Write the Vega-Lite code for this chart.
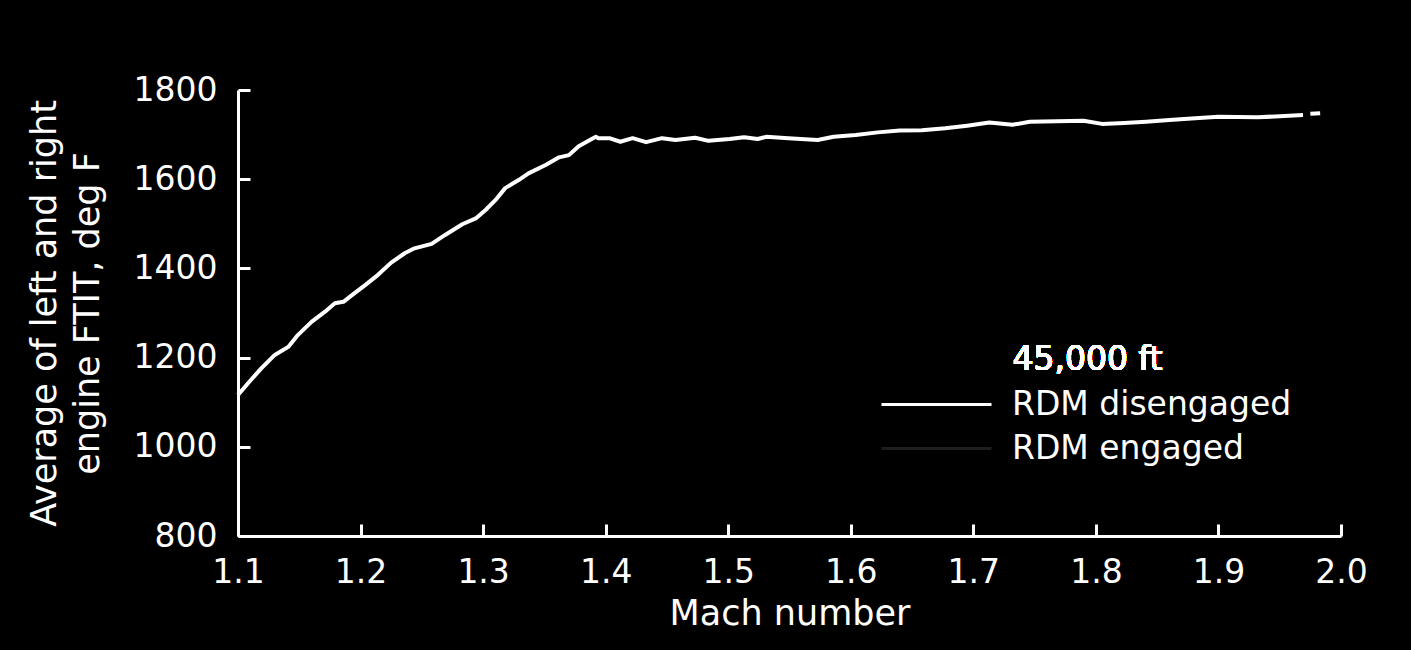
{
  "$schema": "https://vega.github.io/schema/vega-lite/v6.json",
  "autosize": "none",
  "width": 1103,
  "height": 446,
  "padding": {"left": 238, "top": 90, "right": 70, "bottom": 114},
  "background": "#000000",
  "config": {
    "view": {"stroke": null},
    "font": "DejaVu Sans",
    "axis": {
      "domainColor": "#ffffff",
      "domainWidth": 3,
      "tickColor": "#ffffff",
      "tickWidth": 3,
      "tickSize": -12,
      "labelColor": "#ffffff",
      "labelFont": "DejaVu Sans",
      "labelFontSize": 33,
      "labelFlush": false,
      "labelOverlap": false,
      "titleColor": "#ffffff",
      "titleFont": "DejaVu Sans",
      "titleFontSize": 35,
      "titleFontWeight": "normal",
      "grid": false
    },
    "legend": {
      "labelColor": "#ffffff",
      "labelFont": "DejaVu Sans",
      "labelFontSize": 33,
      "labelLimit": 0
    }
  },
  "data": {
    "values": [
      {"mach": 1.100, "ftit": 1116, "series": "RDM disengaged", "seg": 1},
      {"mach": 1.108, "ftit": 1142, "series": "RDM disengaged", "seg": 1},
      {"mach": 1.119, "ftit": 1176, "series": "RDM disengaged", "seg": 1},
      {"mach": 1.130, "ftit": 1206, "series": "RDM disengaged", "seg": 1},
      {"mach": 1.141, "ftit": 1224, "series": "RDM disengaged", "seg": 1},
      {"mach": 1.149, "ftit": 1251, "series": "RDM disengaged", "seg": 1},
      {"mach": 1.160, "ftit": 1280, "series": "RDM disengaged", "seg": 1},
      {"mach": 1.171, "ftit": 1303, "series": "RDM disengaged", "seg": 1},
      {"mach": 1.179, "ftit": 1322, "series": "RDM disengaged", "seg": 1},
      {"mach": 1.186, "ftit": 1325, "series": "RDM disengaged", "seg": 1},
      {"mach": 1.193, "ftit": 1340, "series": "RDM disengaged", "seg": 1},
      {"mach": 1.204, "ftit": 1363, "series": "RDM disengaged", "seg": 1},
      {"mach": 1.214, "ftit": 1385, "series": "RDM disengaged", "seg": 1},
      {"mach": 1.225, "ftit": 1413, "series": "RDM disengaged", "seg": 1},
      {"mach": 1.236, "ftit": 1434, "series": "RDM disengaged", "seg": 1},
      {"mach": 1.244, "ftit": 1445, "series": "RDM disengaged", "seg": 1},
      {"mach": 1.258, "ftit": 1455, "series": "RDM disengaged", "seg": 1},
      {"mach": 1.269, "ftit": 1475, "series": "RDM disengaged", "seg": 1},
      {"mach": 1.283, "ftit": 1499, "series": "RDM disengaged", "seg": 1},
      {"mach": 1.294, "ftit": 1512, "series": "RDM disengaged", "seg": 1},
      {"mach": 1.302, "ftit": 1531, "series": "RDM disengaged", "seg": 1},
      {"mach": 1.310, "ftit": 1553, "series": "RDM disengaged", "seg": 1},
      {"mach": 1.318, "ftit": 1580, "series": "RDM disengaged", "seg": 1},
      {"mach": 1.329, "ftit": 1598, "series": "RDM disengaged", "seg": 1},
      {"mach": 1.337, "ftit": 1613, "series": "RDM disengaged", "seg": 1},
      {"mach": 1.351, "ftit": 1632, "series": "RDM disengaged", "seg": 1},
      {"mach": 1.362, "ftit": 1649, "series": "RDM disengaged", "seg": 1},
      {"mach": 1.370, "ftit": 1654, "series": "RDM disengaged", "seg": 1},
      {"mach": 1.378, "ftit": 1674, "series": "RDM disengaged", "seg": 1},
      {"mach": 1.386, "ftit": 1686, "series": "RDM disengaged", "seg": 1},
      {"mach": 1.392, "ftit": 1695, "series": "RDM disengaged", "seg": 1},
      {"mach": 1.394, "ftit": 1692, "series": "RDM disengaged", "seg": 1},
      {"mach": 1.403, "ftit": 1692, "series": "RDM disengaged", "seg": 1},
      {"mach": 1.412, "ftit": 1684, "series": "RDM disengaged", "seg": 1},
      {"mach": 1.422, "ftit": 1692, "series": "RDM disengaged", "seg": 1},
      {"mach": 1.433, "ftit": 1683, "series": "RDM disengaged", "seg": 1},
      {"mach": 1.446, "ftit": 1692, "series": "RDM disengaged", "seg": 1},
      {"mach": 1.457, "ftit": 1688, "series": "RDM disengaged", "seg": 1},
      {"mach": 1.473, "ftit": 1693, "series": "RDM disengaged", "seg": 1},
      {"mach": 1.484, "ftit": 1686, "series": "RDM disengaged", "seg": 1},
      {"mach": 1.501, "ftit": 1690, "series": "RDM disengaged", "seg": 1},
      {"mach": 1.513, "ftit": 1694, "series": "RDM disengaged", "seg": 1},
      {"mach": 1.524, "ftit": 1690, "series": "RDM disengaged", "seg": 1},
      {"mach": 1.531, "ftit": 1695, "series": "RDM disengaged", "seg": 1},
      {"mach": 1.549, "ftit": 1692, "series": "RDM disengaged", "seg": 1},
      {"mach": 1.573, "ftit": 1688, "series": "RDM disengaged", "seg": 1},
      {"mach": 1.586, "ftit": 1695, "series": "RDM disengaged", "seg": 1},
      {"mach": 1.604, "ftit": 1699, "series": "RDM disengaged", "seg": 1},
      {"mach": 1.622, "ftit": 1705, "series": "RDM disengaged", "seg": 1},
      {"mach": 1.640, "ftit": 1709, "series": "RDM disengaged", "seg": 1},
      {"mach": 1.658, "ftit": 1710, "series": "RDM disengaged", "seg": 1},
      {"mach": 1.677, "ftit": 1714, "series": "RDM disengaged", "seg": 1},
      {"mach": 1.695, "ftit": 1720, "series": "RDM disengaged", "seg": 1},
      {"mach": 1.713, "ftit": 1727, "series": "RDM disengaged", "seg": 1},
      {"mach": 1.732, "ftit": 1722, "series": "RDM disengaged", "seg": 1},
      {"mach": 1.746, "ftit": 1729, "series": "RDM disengaged", "seg": 1},
      {"mach": 1.768, "ftit": 1730, "series": "RDM disengaged", "seg": 1},
      {"mach": 1.790, "ftit": 1731, "series": "RDM disengaged", "seg": 1},
      {"mach": 1.805, "ftit": 1724, "series": "RDM disengaged", "seg": 1},
      {"mach": 1.823, "ftit": 1726, "series": "RDM disengaged", "seg": 1},
      {"mach": 1.841, "ftit": 1729, "series": "RDM disengaged", "seg": 1},
      {"mach": 1.860, "ftit": 1733, "series": "RDM disengaged", "seg": 1},
      {"mach": 1.878, "ftit": 1736, "series": "RDM disengaged", "seg": 1},
      {"mach": 1.900, "ftit": 1740, "series": "RDM disengaged", "seg": 1},
      {"mach": 1.932, "ftit": 1739, "series": "RDM disengaged", "seg": 1},
      {"mach": 1.950, "ftit": 1741, "series": "RDM disengaged", "seg": 1},
      {"mach": 1.969, "ftit": 1744, "series": "RDM disengaged", "seg": 1},
      {"mach": 1.975, "ftit": 1747, "series": "RDM disengaged", "seg": 2},
      {"mach": 1.983, "ftit": 1748, "series": "RDM disengaged", "seg": 2}
    ]
  },
  "layer": [
    {
      "mark": {"type": "line", "strokeWidth": 4, "strokeJoin": "round", "strokeCap": "butt"},
      "encoding": {
        "x": {
          "field": "mach", "type": "quantitative",
          "scale": {"domain": [1.1, 2.0], "nice": false, "zero": false},
          "axis": {
            "title": "Mach number",
            "values": [1.1, 1.2, 1.3, 1.4, 1.5, 1.6, 1.7, 1.8, 1.9, 2.0],
            "format": ".1f",
            "labelPadding": 32,
            "titlePadding": 7
          }
        },
        "y": {
          "field": "ftit", "type": "quantitative",
          "scale": {"domain": [800, 1800], "nice": false, "zero": false},
          "axis": {
            "title": ["Average of left and right", "engine FTIT, deg F"],
            "values": [800, 1000, 1200, 1400, 1600, 1800],
            "format": "d",
            "labelPadding": 33,
            "titlePadding": 28,
            "titleLineHeight": 43
          }
        },
        "detail": {"field": "seg", "type": "nominal"},
        "color": {
          "field": "series", "type": "nominal",
          "scale": {"domain": ["RDM disengaged", "RDM engaged"], "range": ["#ffffff", "#1e1e1e"]},
          "legend": {
            "title": null,
            "orient": "none",
            "legendX": 682,
            "legendY": 298,
            "symbolType": "M-5,0H5",
            "symbolSize": 484,
            "symbolStrokeWidth": 3,
            "labelOffset": 59,
            "rowPadding": 10,
            "padding": 0
          }
        }
      }
    },
    {
      "mark": {"type": "text", "text": "45,000 ft", "align": "left", "baseline": "alphabetic", "fontSize": 33, "color": "#ffffff", "font": "DejaVu Sans"},
      "encoding": {
        "x": {"datum": 1.732, "type": "quantitative"},
        "y": {"datum": 1172, "type": "quantitative"}
      }
    }
  ]
}
